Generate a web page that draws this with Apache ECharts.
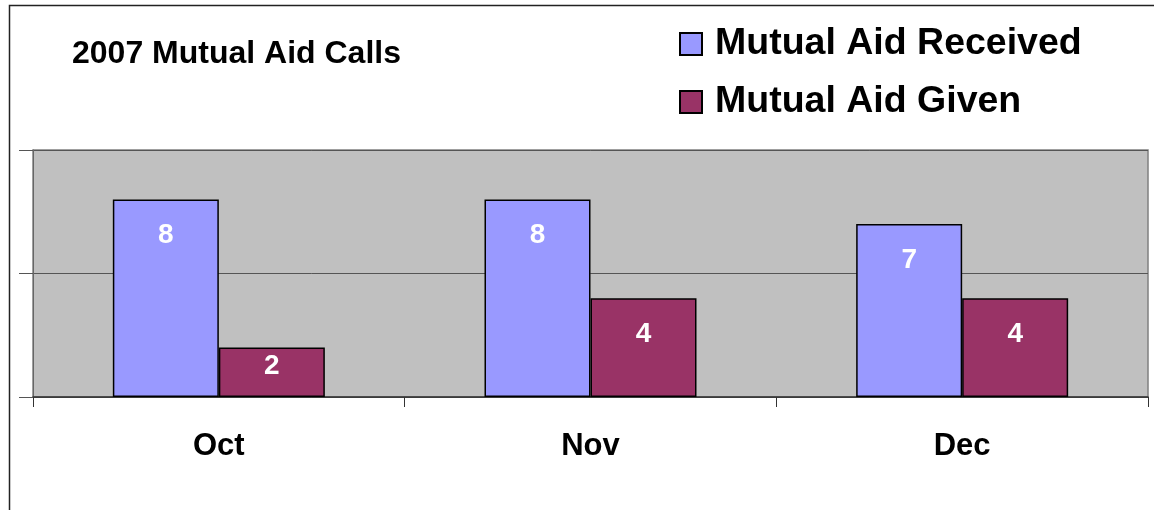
<!DOCTYPE html>
<html><head><meta charset="utf-8">
<script src="https://cdn.jsdelivr.net/npm/echarts@6/dist/echarts.min.js"></script>
<style>html,body{margin:0;padding:0;background:#fff}#c{width:1154px;height:510px}</style>
</head><body><div id="c"></div>
<script>
const categories = ['Oct', 'Nov', 'Dec'];
const received = [8, 8, 7];
const given = [2, 4, 4];
const seriesNames = ['Mutual Aid Received', 'Mutual Aid Given'];
const yTicks = [0, 5, 10];

const chart = echarts.init(document.getElementById('c'));
const F = 'Liberation Sans, Arial, sans-serif';
function mk(vals) {
  return vals.map(v => ({ value: v, label: { distance: v < 3 ? 5 : 22 } }));
}
const labelCfg = { show: true, position: 'insideTop', color: '#fff', fontFamily: F, fontWeight: 'bold', fontSize: 28 };
chart.setOption({
  animation: false,
  graphic: [{ type: 'rect', shape: { x: 9.5, y: 5.5, width: 1200, height: 600 }, style: { fill: 'none', stroke: '#222', lineWidth: 1.5 }, silent: true }],
  title: { text: '2007 Mutual Aid Calls', left: 67, top: 33, textStyle: { fontFamily: F, fontWeight: 'bold', fontSize: 32, color: '#000' } },
  legend: {
    orient: 'vertical', left: 674, top: 20, itemWidth: 22, itemHeight: 22, itemGap: 20,
    icon: 'rect',
    textStyle: { fontFamily: F, fontWeight: 'bold', fontSize: 37.5, lineHeight: 34, color: '#000', padding: [0, 0, 0, 8] },
    data: seriesNames
  },
  grid: { left: 33, right: 6, top: 150, bottom: 113, show: true, backgroundColor: '#C0C0C0', borderColor: '#808080', borderWidth: 1.5 },
  xAxis: {
    type: 'category', data: categories,
    axisLine: { lineStyle: { color: '#333', width: 1.5 } },
    axisTick: { show: true, length: 10, alignWithLabel: false, lineStyle: { color: '#333' } },
    axisLabel: { fontFamily: F, fontWeight: 'bold', fontSize: 31, color: '#000', margin: 34 }
  },
  yAxis: {
    type: 'value', min: yTicks[0], max: yTicks[yTicks.length - 1], interval: yTicks[1] - yTicks[0],
    axisLine: { show: true, lineStyle: { color: '#666' } },
    axisTick: { show: true, length: 14, lineStyle: { color: '#555' } },
    axisLabel: { show: false },
    splitLine: { show: true, lineStyle: { color: '#555', width: 1 } }
  },
  series: [
    { name: seriesNames[0], type: 'bar', data: mk(received), barWidth: 106, barGap: '0%',
      itemStyle: { color: '#9999FF', borderColor: '#000', borderWidth: 1.5 }, label: labelCfg },
    { name: seriesNames[1], type: 'bar', data: mk(given), barWidth: 106, barGap: '0%',
      itemStyle: { color: '#993366', borderColor: '#000', borderWidth: 1.5 }, label: labelCfg }
  ]
});
</script></body></html>
